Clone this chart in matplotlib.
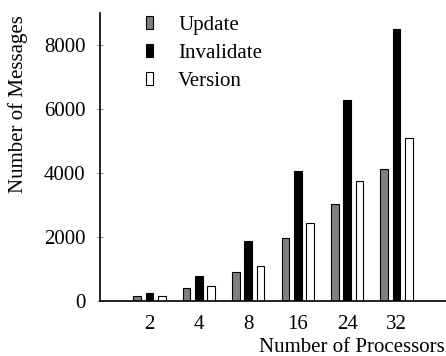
import matplotlib
matplotlib.use("Agg")
import matplotlib.pyplot as plt
import numpy as np

processors = ["2", "4", "8", "16", "24", "32"]
update = [155, 395, 915, 1980, 3040, 4115]
invalidate = [260, 790, 1885, 4070, 6280, 8500]
version = [155, 470, 1100, 2430, 3740, 5085]
yticks = [0, 2000, 4000, 6000, 8000]

plt.rcParams['font.family'] = ['Liberation Serif', 'DejaVu Serif']
fs = 15

fig = plt.figure(figsize=(4.46, 3.56), dpi=100)
ax = fig.add_axes([100/446, 55/356, 346/446, 288/356])

x = np.arange(1, len(processors) + 1)
w = 0.155
off = 0.25
ax.bar(x - off, update, w, color='#808080', edgecolor='black', linewidth=0.8, label='Update')
ax.bar(x, invalidate, w, color='black', edgecolor='black', linewidth=0.8, label='Invalidate')
ax.bar(x + off, version, w, color='white', edgecolor='black', linewidth=0.8, label='Version')

ax.set_xlim(0, 7)
ax.set_ylim(0, 9000)
ax.set_xticks(x)
ax.set_xticklabels(processors, fontsize=fs)
ax.set_yticks(yticks)
ax.set_yticklabels([str(v) for v in yticks], fontsize=fs)
ax.tick_params(axis='x', length=0, pad=10)
ax.tick_params(axis='y', length=5, direction='inout', color='#999999', pad=8)

for s in ['top', 'right']:
    ax.spines[s].set_visible(False)
ax.spines['left'].set_linewidth(1.2)
ax.spines['bottom'].set_linewidth(1.2)

ax.set_ylabel('Number of Messages', fontsize=fs)
ax.yaxis.set_label_coords(-0.237, 0.684)
ax.set_xlabel('Number of Processors', fontsize=fs)
ax.xaxis.set_label_coords(0.727, -0.163)
ax.xaxis.label.set_va('center')
ax.yaxis.label.set_va('center')

leg = fig.legend(loc='upper left', bbox_to_anchor=(146/446, 1 - 16/356), frameon=False,
                 fontsize=fs, handlelength=0.34, handleheight=0.58, handletextpad=1.2,
                 labelspacing=0.42, borderpad=0, borderaxespad=0)

fig.savefig('out.png', dpi=100)
